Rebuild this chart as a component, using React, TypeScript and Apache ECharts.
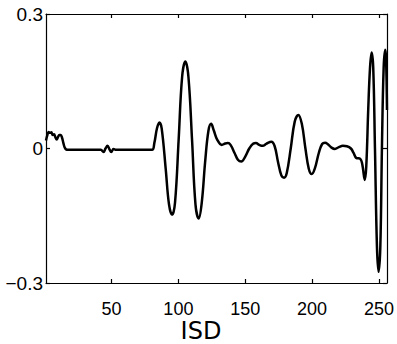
import React, { useEffect, useRef } from "react";
import * as echarts from "echarts";

const xValues = [
  1, 2, 3, 4, 5, 6, 7, 8, 9, 10, 11, 12, 13, 14, 15, 16, 17.5, 25, 35, 42,
  44, 45.5, 47, 48.5, 49.8, 51.5, 53, 60, 70, 80.3, 82, 84, 85.8, 87.5, 90.5,
  93, 95.3, 97.5, 100.2, 102.8, 105.2, 107.5, 110.2, 112.8, 115.2, 117.5, 120,
  122.5, 124.5, 126.5, 129, 132.5, 135, 137, 139, 142, 144.5, 147, 150, 153,
  156, 158, 160.5, 163, 166, 169.5, 172, 174.5, 177, 179, 181, 184, 187, 189.7,
  192.3, 195, 197.5, 199.7, 202, 205, 207.5, 209.7, 212, 214.5, 217, 220, 223,
  226, 229, 231, 233, 236, 237.5, 239.4, 240.5, 242, 243.3, 244.5, 245.7, 247,
  248.5, 249.7, 251, 252.2, 253.5, 254.7, 255.3, 256,
];

const yValues = [
  0.018, 0.03, 0.037, 0.035, 0.036, 0.03, 0.032, 0.025, 0.02, 0.026, 0.03,
  0.03, 0.024, 0.012, 0.002, -0.002, -0.003, -0.003, -0.003, -0.003, -0.008,
  0.0, 0.006, -0.002, -0.008, -0.001, -0.003, -0.003, -0.003, -0.003, 0.012,
  0.045, 0.058, 0.045, -0.045, -0.125, -0.148, -0.12, 0.02, 0.16, 0.194, 0.16,
  0.02, -0.125, -0.156, -0.12, -0.03, 0.04, 0.055, 0.04, 0.02, 0.008, 0.011,
  0.012, 0.008, -0.01, -0.025, -0.029, -0.018, 0.0, 0.011, 0.012, 0.008, 0.006,
  0.011, 0.015, 0.005, -0.03, -0.06, -0.065, -0.055, 0.0, 0.06, 0.075, 0.055,
  0.0, -0.045, -0.057, -0.045, -0.01, 0.01, 0.013, 0.009, 0.002, -0.001,
  0.003, 0.006, 0.005, 0.0, -0.01, -0.021, -0.023, -0.035, -0.07, -0.04, 0.09,
  0.18, 0.214, 0.18, 0.0, -0.22, -0.275, -0.22, 0.0, 0.18, 0.22, 0.2, 0.086,
];

const xTicks = [50, 100, 150, 200, 250];
const yTicks = [-0.3, 0, 0.3];
const xTitle = "ISD";

const fmtY = (v: number) => {
  if (Math.abs(v) < 1e-9) return "0";
  const s = Math.abs(v).toFixed(1);
  return v < 0 ? "\u2212" + s : s;
};

export default function App() {
  const ref = useRef<HTMLDivElement>(null);
  useEffect(() => {
    if (!ref.current) return;
    const chart = echarts.init(ref.current, null, { renderer: "svg" });
    const lineStyle = { color: "#000", width: 1.2 };
    const tickFont = {
      fontFamily: "Liberation Sans, Arial, sans-serif",
      fontSize: 18,
      color: "#000",
    };
    chart.setOption({
      animation: false,
      backgroundColor: "#fff",
      grid: { left: 46, right: 10, top: 14, bottom: 61 },
      xAxis: [
        {
          type: "value",
          position: "bottom",
          min: 1,
          max: 256,
          axisLine: { show: true, onZero: false, lineStyle },
          axisTick: { show: true, inside: true, length: 4, lineStyle, customValues: xTicks },
          axisLabel: { show: true, margin: 17, customValues: xTicks, ...tickFont },
          splitLine: { show: false },
        },
        {
          type: "value",
          position: "top",
          min: 1,
          max: 256,
          axisLine: { show: true, onZero: false, lineStyle },
          axisTick: { show: true, inside: true, length: 4, lineStyle, customValues: xTicks },
          axisLabel: { show: false },
          splitLine: { show: false },
        },
      ],
      yAxis: [
        {
          type: "value",
          position: "left",
          min: -0.3,
          max: 0.3,
          axisLine: { show: true, onZero: false, lineStyle },
          axisTick: { show: true, inside: true, length: 4, lineStyle, customValues: yTicks },
          axisLabel: {
            show: true,
            margin: 3,
            padding: [5, 0, 0, 0],
            customValues: yTicks,
            formatter: fmtY,
            ...tickFont,
            fontSize: 19,
          },
          splitLine: { show: false },
        },
        {
          type: "value",
          position: "right",
          min: -0.3,
          max: 0.3,
          axisLine: { show: true, onZero: false, lineStyle },
          axisTick: { show: true, inside: true, length: 4, lineStyle, customValues: yTicks },
          axisLabel: { show: false },
          splitLine: { show: false },
        },
      ],
      graphic: [
        {
          type: "text",
          x: 201,
          y: 331,
          style: {
            text: xTitle,
            fontFamily: "DejaVu Sans",
            fontSize: 24,
            fill: "#000",
            align: "center",
            verticalAlign: "middle",
          },
        },
      ],
      series: [
        {
          type: "line",
          xAxisIndex: 0,
          yAxisIndex: 0,
          data: xValues.map((x, i) => [x, yValues[i]]),
          showSymbol: false,
          smooth: 0.4,
          lineStyle: { color: "#000", width: 2.5 },
          clip: true,
        },
      ],
    });
    return () => chart.dispose();
  }, []);
  return <div ref={ref} style={{ width: 397, height: 344, position: "absolute", left: 0, top: 0 }} />;
}
